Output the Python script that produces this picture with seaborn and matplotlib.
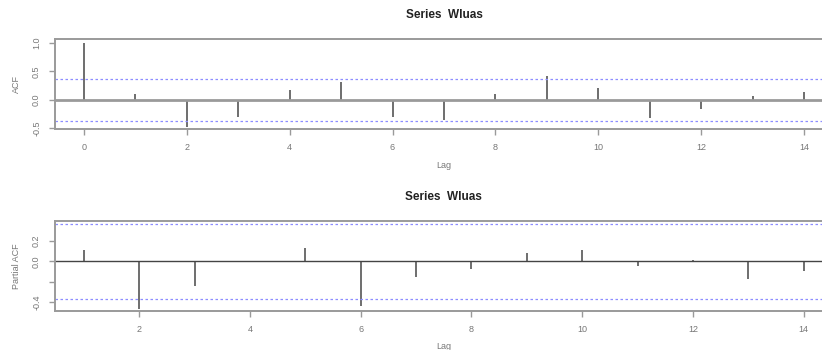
import numpy as np
import matplotlib
matplotlib.use("Agg")
import matplotlib.pyplot as plt
import seaborn as sns

# --- data (R acf / pacf of series Wluas) ---
acf_lags = list(range(0, 15))
acf_vals = [1.0, 0.10, -0.48, -0.30, 0.17, 0.32, -0.30, -0.35,
            0.10, 0.41, 0.20, -0.32, -0.17, 0.06, 0.13]

pacf_lags = list(range(1, 15))
pacf_vals = [0.11, -0.47, -0.24, -0.005, 0.13, -0.44, -0.15,
             -0.07, 0.08, 0.11, -0.04, 0.01, -0.17, -0.09]

ci = 0.37
title = "Series  Wluas"
acf_yticks = [-0.5, 0.0, 0.5, 1.0]
acf_yticklabels = ["-0.5", "0.0", "0.5", "1.0"]
acf_xticks = [0, 2, 4, 6, 8, 10, 12, 14]
pacf_yticks = [-0.4, -0.2, 0.0, 0.2]
pacf_yticklabels = ["-0.4", "", "0.0", "0.2"]
pacf_xticks = [2, 4, 6, 8, 10, 12, 14]

sns.set_style("white")
plt.rcParams["font.family"] = ["Liberation Sans", "DejaVu Sans"]

box_col = "#9a9a9a"
stem_col = "#555555"
text_col = "#777777"
ci_col = "#8c8cff"

fig = plt.figure(figsize=(8.22, 3.5), dpi=100)
ax1 = fig.add_axes([0.0669, 0.6306, 0.9465, 0.258])
ax2 = fig.add_axes([0.0669, 0.1114, 0.946, 0.2571])


def style_axis(ax, xticks, yticks, yticklabels, ylabel, xlim, ylim):
    for s in ax.spines.values():
        s.set_color(box_col)
        s.set_linewidth(1.4)
    ax.set_yticks(yticks)
    ax.set_yticklabels(yticklabels, rotation=90, va="center", fontsize=6.5, color=text_col)
    ax.set_xticks(xticks)
    ax.set_xticklabels([str(t) for t in xticks], fontsize=6.5, color=text_col)
    ax.tick_params(axis="both", length=4, width=1.0, color=box_col, pad=6)
    ax.tick_params(axis="x", bottom=True)
    ax.tick_params(axis="y", left=True)
    ax.set_ylabel(ylabel, fontsize=6.5, color=text_col, labelpad=8)
    ax.set_xlabel("Lag", fontsize=6.5, color=text_col, labelpad=6)
    ax.set_title(title, fontsize=8.5, fontweight="bold", color="#222222", pad=15)
    ax.set_xlim(*xlim)
    ax.set_ylim(*ylim)


# --- ACF panel ---
ax1.vlines(acf_lags, 0, acf_vals, color=stem_col, linewidth=1.2)
ax1.axhline(0, color=box_col, linewidth=2.0)
ax1.axhline(ci, color=ci_col, linestyle=(0, (2, 2)), linewidth=0.9)
ax1.axhline(-ci, color=ci_col, linestyle=(0, (2, 2)), linewidth=0.9)
style_axis(ax1, acf_xticks, acf_yticks, acf_yticklabels, "ACF",
           (-0.56, 14.56), (-0.52, 1.07))

# --- PACF panel ---
ax2.vlines(pacf_lags, 0, pacf_vals, color=stem_col, linewidth=1.2)
ax2.axhline(0, color="#444444", linewidth=1.0)
ax2.axhline(ci, color=ci_col, linestyle=(0, (2, 2)), linewidth=0.9)
ax2.axhline(-ci, color=ci_col, linestyle=(0, (2, 2)), linewidth=0.9)
style_axis(ax2, pacf_xticks, pacf_yticks, pacf_yticklabels, "Partial ACF",
           (0.48, 14.52), (-0.49, 0.40))

fig.savefig("out.png", dpi=100)
plt.close(fig)
